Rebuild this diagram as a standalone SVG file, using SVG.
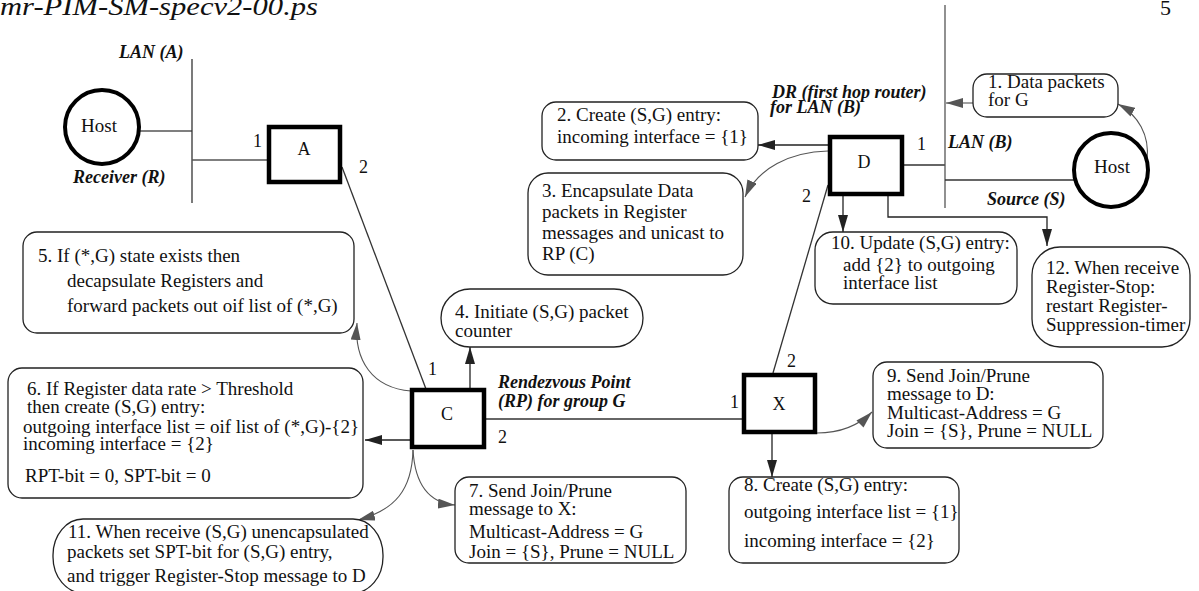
<svg xmlns="http://www.w3.org/2000/svg" width="1199" height="591" viewBox="0 0 1199 591">
<style>
text{font-family:"Liberation Serif","Times New Roman",serif;fill:#111}
.t{font-size:19px}
.bi{font-size:18px;font-weight:bold;font-style:italic}
.n{font-size:18px}
.box{fill:#fff;stroke:#222;stroke-width:1.3}
.rt{fill:#fff;stroke:#000;stroke-width:4.5}
.host{fill:#fff;stroke:#000;stroke-width:4}
.ln{fill:none;stroke:#333;stroke-width:1.3}
.lg{fill:none;stroke:#555;stroke-width:1.3}
.ar{fill:none;stroke:#222;stroke-width:1.3;marker-end:url(#ah)}
.ac{fill:none;stroke:#555;stroke-width:1.1;marker-end:url(#ag)}
</style>
<defs>
<marker id="ah" viewBox="0 0 17 10" refX="17" refY="5" markerWidth="17" markerHeight="10" markerUnits="userSpaceOnUse" orient="auto"><path d="M0,0 L17,5 L0,10 z" fill="#222"/></marker>
<marker id="ag" viewBox="0 0 17 10" refX="17" refY="5" markerWidth="17" markerHeight="10" markerUnits="userSpaceOnUse" orient="auto"><path d="M0,0 L17,5 L0,10 z" fill="#555"/></marker>
</defs>
<rect width="1199" height="591" fill="#fff"/>
<g id="header">
<text x="0" y="15" font-size="26" font-style="italic" textLength="318" lengthAdjust="spacingAndGlyphs">mr-PIM-SM-specv2-00.ps</text>
<text x="1160" y="15" font-size="22">5</text>
</g>
<g id="connectors">
<line class="lg" x1="139" y1="131" x2="192" y2="131"/>
<line class="ln" x1="192" y1="59" x2="192" y2="203"/>
<line class="lg" x1="192" y1="160" x2="267" y2="160"/>
<line class="ln" x1="342" y1="167" x2="426" y2="389"/>
<line class="ln" x1="486" y1="419" x2="742" y2="419"/>
<line class="ln" x1="773" y1="373" x2="828" y2="185"/>
<line class="ln" x1="904" y1="165" x2="945" y2="165"/>
<line class="lg" x1="945" y1="5" x2="945" y2="208" stroke-width="1.6"/>
<line class="ln" x1="945" y1="180" x2="1074" y2="180"/>
<line class="ar" x1="828" y1="145" x2="758" y2="145"/>
<path class="ac" d="M828,151 C790,152 758,168 745,197"/>
<line class="ar" x1="843" y1="196" x2="843" y2="232"/>
<polyline class="ar" points="888,196 888,217 1047,217 1047,246"/>
<line class="ac" x1="973" y1="103" x2="946" y2="103" stroke-width="1.3"/>
<path class="ac" d="M1147,160 C1150,135 1138,115 1118,104"/>
<line class="ar" x1="470" y1="388" x2="470" y2="347"/>
<line class="ar" x1="410" y1="440" x2="365" y2="440"/>
<path class="ac" d="M411,391 C372,388 354,360 357,323"/>
<path class="ac" d="M413,450 C412,490 395,510 358,520"/>
<path class="ac" d="M413,450 C415,485 430,503 455,505"/>
<line class="ar" x1="772" y1="434" x2="772" y2="477"/>
<path class="ac" d="M817,433 C840,433 858,426 872,412"/>
</g>
<g id="hostR">
<circle class="host" cx="102" cy="127" r="37"/>
<text class="t" x="99" y="132" text-anchor="middle">Host</text>
</g>
<g id="hostS">
<circle class="host" cx="1111" cy="170" r="37"/>
<text class="t" x="1112" y="173" text-anchor="middle">Host</text>
</g>
<g id="labels">
<text class="bi" x="119" y="58">LAN (A)</text>
<text class="bi" x="73" y="183">Receiver (R)</text>
<text class="bi" x="772" y="98">DR (first hop router)</text>
<text class="bi" x="770" y="113">for LAN (B)</text>
<text class="bi" x="948" y="148">LAN (B)</text>
<text class="bi" x="987" y="205">Source (S)</text>
<text class="bi" x="498" y="388">Rendezvous Point</text>
<text class="bi" x="498" y="407">(RP) for group G</text>
<text class="n" x="253" y="147">1</text>
<text class="n" x="359" y="173">2</text>
<text class="n" x="917" y="150">1</text>
<text class="n" x="802" y="202">2</text>
<text class="n" x="428" y="375">1</text>
<text class="n" x="498" y="443">2</text>
<text class="n" x="730" y="408">1</text>
<text class="n" x="787" y="367">2</text>
</g>
<g id="routerA">
<rect class="rt" x="269" y="127" width="71" height="55"/>
<text class="n" x="304" y="155" text-anchor="middle">A</text>
</g>
<g id="routerD">
<rect class="rt" x="830" y="137" width="72" height="57"/>
<text class="n" x="864" y="168" text-anchor="middle">D</text>
</g>
<g id="routerC">
<rect class="rt" x="412" y="390" width="72" height="57"/>
<text class="n" x="447" y="420" text-anchor="middle">C</text>
</g>
<g id="routerX">
<rect class="rt" x="744" y="375" width="71" height="57"/>
<text class="n" x="779" y="410" text-anchor="middle">X</text>
</g>
<g id="box1">
<rect class="box" x="973" y="74" width="145" height="43" rx="14"/>
<text class="t" x="988" y="88">1. Data packets</text>
<text class="t" x="988" y="106">for G</text>
</g>
<g id="box2">
<rect class="box" x="542" y="102" width="216" height="58" rx="14"/>
<text class="t" x="557" y="121">2. Create (S,G) entry:</text>
<text class="t" x="557" y="143">incoming interface = {1}</text>
</g>
<g id="box3">
<rect class="box" x="528" y="173" width="215" height="102" rx="20"/>
<text class="t" x="542" y="197">3. Encapsulate Data</text>
<text class="t" x="542" y="218">packets in Register</text>
<text class="t" x="542" y="239">messages and unicast to</text>
<text class="t" x="542" y="260">RP (C)</text>
</g>
<g id="box4">
<rect class="box" x="441" y="289" width="202" height="58" rx="29"/>
<text class="t" x="455" y="318">4. Initiate (S,G) packet</text>
<text class="t" x="455" y="337">counter</text>
</g>
<g id="box5">
<rect class="box" x="23" y="232" width="331" height="101" rx="14"/>
<text class="t" x="38" y="262">5. If (*,G) state exists then</text>
<text class="t" x="67" y="287">decapsulate Registers and</text>
<text class="t" x="67" y="312">forward packets out oif list of (*,G)</text>
</g>
<g id="box6">
<rect class="box" x="8" y="368" width="355" height="130" rx="14"/>
<text class="t" x="27" y="395">6. If Register data rate &gt; Threshold</text>
<text class="t" x="27" y="413">then create (S,G) entry:</text>
<text class="t" x="23" y="433">outgoing interface list = oif list of (*,G)-{2}</text>
<text class="t" x="23" y="450">incoming interface = {2}</text>
<text class="t" x="25" y="482">RPT-bit = 0, SPT-bit = 0</text>
</g>
<g id="box7">
<rect class="box" x="455" y="477" width="231" height="86" rx="14"/>
<text class="t" x="469" y="497">7. Send Join/Prune</text>
<text class="t" x="469" y="515">message to X:</text>
<text class="t" x="469" y="538">Multicast-Address = G</text>
<text class="t" x="469" y="558">Join = {S}, Prune = NULL</text>
</g>
<g id="box8">
<rect class="box" x="729" y="477" width="230" height="86" rx="14"/>
<text class="t" x="744" y="491">8. Create (S,G) entry:</text>
<text class="t" x="744" y="518">outgoing interface list = {1}</text>
<text class="t" x="744" y="547">incoming interface = {2}</text>
</g>
<g id="box9">
<rect class="box" x="873" y="362" width="230" height="86" rx="14"/>
<text class="t" x="887" y="382">9. Send Join/Prune</text>
<text class="t" x="887" y="400">message to D:</text>
<text class="t" x="887" y="419">Multicast-Address = G</text>
<text class="t" x="887" y="437">Join = {S}, Prune = NULL</text>
</g>
<g id="box10">
<rect class="box" x="815" y="232" width="202" height="72" rx="18"/>
<text class="t" x="831" y="249">10. Update (S,G) entry:</text>
<text class="t" x="843" y="271">add {2} to outgoing</text>
<text class="t" x="843" y="289">interface list</text>
</g>
<g id="box11">
<rect class="box" x="53" y="519" width="330" height="74" rx="30" ry="36"/>
<text class="t" x="68" y="538">11. When receive (S,G) unencapsulated</text>
<text class="t" x="67" y="558">packets set SPT-bit for (S,G) entry,</text>
<text class="t" x="67" y="582">and trigger Register-Stop message to D</text>
</g>
<g id="box12">
<rect class="box" x="1032" y="247" width="158" height="100" rx="28"/>
<text class="t" x="1046" y="274">12. When receive</text>
<text class="t" x="1046" y="293">Register-Stop:</text>
<text class="t" x="1046" y="312">restart Register-</text>
<text class="t" x="1046" y="331">Suppression-timer</text>
</g>
</svg>
